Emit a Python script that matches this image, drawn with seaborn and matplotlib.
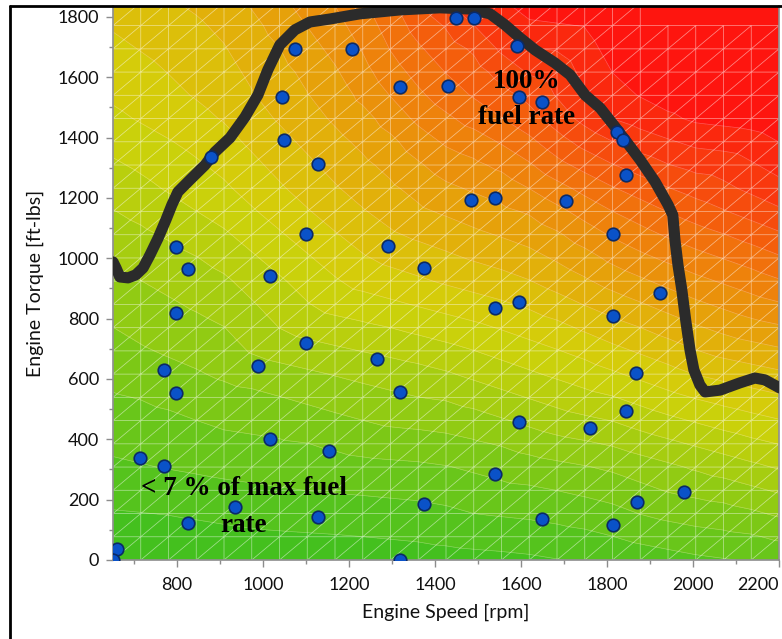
import numpy as np
import pandas as pd
import matplotlib
matplotlib.use("Agg")
import matplotlib.pyplot as plt
import matplotlib.tri as mtri
from matplotlib.colors import LinearSegmentedColormap
from matplotlib.ticker import MultipleLocator
from matplotlib.lines import Line2D
import seaborn as sns

# ---------------- data ----------------
# fuel rate (% of max) read on a coarse speed x torque grid
grid_speed = [651, 900, 1200, 1400, 1600, 1800, 2000, 2200]
grid_torque = [0, 300, 600, 900, 1200, 1500, 1850]
fuel_651 = [0, 9, 16, 23, 31, 40, 47]
fuel_900 = [1, 11, 20, 28, 38, 46, 52]
fuel_1200 = [2, 13, 25, 40, 50, 58, 67]
fuel_1400 = [3, 14, 28, 44, 57, 70, 82]
fuel_1600 = [4, 17, 33, 48, 62, 79, 98]
fuel_1800 = [6, 20, 38, 55, 72, 92, 100]
fuel_2000 = [9, 25, 44, 62, 80, 98, 100]
fuel_2200 = [11, 30, 48, 68, 87, 100, 100]

# measured operating points
pt_speed = [1074, 1207, 1449, 1490, 1591, 1044, 1318, 1430, 1595, 1649,
            1049, 1128, 879, 1823, 1837, 1844, 1484, 1539, 1704, 1814,
            1100, 1290, 798, 825, 1016, 1374, 1595, 1539, 798, 1923,
            1814, 1100, 1265, 988, 770, 798, 1318, 1868, 1844, 1595,
            1760, 1016, 1153, 714, 770, 1539, 1979, 1870, 935, 1374,
            1128, 1649, 1814, 825, 660, 651, 1318]
pt_torque = [1694, 1694, 1797, 1797, 1704, 1535, 1568, 1571, 1535, 1518,
             1392, 1313, 1336, 1419, 1392, 1276, 1193, 1200, 1190, 1081,
             1081, 1041, 1037, 965, 941, 968, 855, 835, 819, 885,
             809, 719, 666, 643, 630, 553, 557, 620, 494, 457,
             437, 401, 361, 338, 312, 285, 225, 192, 176, 186,
             143, 136, 116, 123, 36, 0, 0]

# max torque curve
curve_speed = [651, 658, 667, 686, 704, 721, 737, 756, 774, 788, 802, 830,
               865, 888, 923, 958, 988, 1011, 1039, 1074, 1109, 1156, 1225,
               1318, 1411, 1481, 1528, 1563, 1598, 1633, 1679, 1714, 1749,
               1784, 1819, 1842, 1877, 1912, 1942, 1953, 1958, 1965, 1974,
               1983, 1993, 2002, 2016, 2028, 2063, 2109, 2144, 2167, 2202]
curve_torque = [988, 968, 938, 935, 945, 968, 1011, 1067, 1127, 1177, 1220,
                1260, 1309, 1352, 1399, 1468, 1541, 1624, 1707, 1757, 1783,
                1793, 1810, 1823, 1830, 1826, 1810, 1773, 1730, 1690, 1647,
                1608, 1541, 1498, 1435, 1392, 1326, 1253, 1177, 1143, 1061,
                978, 895, 795, 696, 630, 580, 557, 563, 587, 603, 597, 570]

x_ticks = [800, 1000, 1200, 1400, 1600, 1800, 2000, 2200]
y_ticks = [0, 200, 400, 600, 800, 1000, 1200, 1400, 1600, 1800]

# ---------------- figure ----------------
sns.set_theme(style="white")
plt.rcParams['font.family'] = ['Lato', 'DejaVu Sans']

fig = plt.figure(figsize=(7.82, 6.39), dpi=100)
ax = fig.add_axes([113 / 782, 79 / 639, 666 / 782, 554 / 639])

XMIN, XMAX, YMIN, YMAX = 651, 2200, 0, 1836

# coarse field -> fine mesh
fuel_table = np.array([fuel_651, fuel_900, fuel_1200, fuel_1400,
                       fuel_1600, fuel_1800, fuel_2000, fuel_2200], float)
GS, GT = np.meshgrid(grid_speed, grid_torque, indexing="ij")
coarse = mtri.Triangulation(GS.ravel(), GT.ravel())
interp = mtri.LinearTriInterpolator(coarse, fuel_table.ravel())

nx, ny = 25, 25
mx = np.linspace(651, 2200, nx)
my = np.linspace(0, 1848, ny)
MX, MY = np.meshgrid(mx, my)
tris = []
for j in range(ny - 1):
    for i in range(nx - 1):
        a = j * nx + i
        b = a + 1
        c = a + nx
        d = c + 1
        tris.append([a, b, d])
        tris.append([a, d, c])
fine = mtri.Triangulation(MX.ravel(), MY.ravel(), np.array(tris))
fz = np.clip(np.asarray(interp(MX.ravel(), np.minimum(MY.ravel(), 1850))), 0, 100)

anchors = [(0, "#3cbf1e"), (10, "#5ec41c"), (20, "#88ca14"), (30, "#b0ce0e"),
           (40, "#d2d20a"), (50, "#e0b80a"), (60, "#e89a0a"), (70, "#f07a0c"),
           (80, "#f5560c"), (90, "#fa300e"), (100, "#ff0f0f")]
cmap = LinearSegmentedColormap.from_list("fuel", [(v / 100, c) for v, c in anchors])
levels = sorted(set(list(np.arange(0, 100, 5)) + [95, 101]))
ax.tricontourf(fine, fz, levels=levels, cmap=cmap, vmin=0, vmax=100, zorder=1)
ax.tricontour(fine, fz, levels=levels[1:-1], colors="white", linewidths=0.5,
              alpha=0.3, zorder=2)

# mesh seams (hidden where surface is flat at 100 %)
flat = np.all(fz[fine.triangles] >= 99.5, axis=1)
fine.set_mask(flat)
ax.triplot(fine, color="white", linewidth=0.55, alpha=0.5, zorder=2)

# max torque curve
sns.lineplot(x=curve_speed, y=curve_torque, sort=False, estimator=None,
             color="#2b2b2b", linewidth=8, ax=ax, zorder=4,
             solid_capstyle="round", solid_joinstyle="round")

# operating points
sns.scatterplot(x=pt_speed, y=pt_torque, s=82, color="#0a52c8",
                edgecolor="#0b2a66", linewidth=1.2, ax=ax, zorder=5,
                clip_on=True)

# annotations
serif = dict(family="Liberation Serif", weight="bold", color="black", zorder=6)
ax.text(1614, 1564, "100%", ha="center", va="baseline", fontsize=19.5, **serif)
ax.text(1614, 1445, "fuel rate", ha="center", va="baseline", fontsize=19.5, **serif)
ax.text(955, 215, "< 7 % of max fuel", ha="center", va="baseline", fontsize=19.5, **serif)
ax.text(955, 93, "rate", ha="center", va="baseline", fontsize=19.5, **serif)

# axes styling
ax.set_xlim(XMIN, XMAX)
ax.set_ylim(YMIN, YMAX)
ax.set_xticks(x_ticks)
ax.set_yticks(y_ticks)
ax.xaxis.set_minor_locator(MultipleLocator(100))
ax.yaxis.set_minor_locator(MultipleLocator(100))
ax.tick_params(which="major", direction="out", length=5, width=1, color="#8c8c8c",
               labelsize=13, labelcolor="#111111", bottom=True, left=True)
ax.tick_params(which="minor", direction="out", length=3, width=1, color="#8c8c8c",
               bottom=True, left=True)
ax.tick_params(axis="x", which="major", pad=7)
ax.tick_params(axis="y", which="major", pad=5)
fig.canvas.draw()
xl = ax.get_xticklabels()
xl[-1].set_horizontalalignment("right")
for side in ["left", "bottom", "right"]:
    ax.spines[side].set_color("#8c8c8c")
    ax.spines[side].set_linewidth(1.2)
ax.spines["top"].set_visible(False)
ax.set_xlabel("Engine Speed [rpm]", fontsize=14, color="#111111", labelpad=8)
ax.set_ylabel("Engine Torque [ft-lbs]", fontsize=14, color="#111111", labelpad=10)

# outer frame (top and left edges of the figure border)
fig.add_artist(Line2D([9.5 / 782, 1.0], [1 - 5.5 / 639, 1 - 5.5 / 639],
                      transform=fig.transFigure, color="black", linewidth=2))
fig.add_artist(Line2D([9.5 / 782, 9.5 / 782], [0.0, 1 - 5.5 / 639],
                      transform=fig.transFigure, color="black", linewidth=2))

fig.savefig("out.png", dpi=100)
